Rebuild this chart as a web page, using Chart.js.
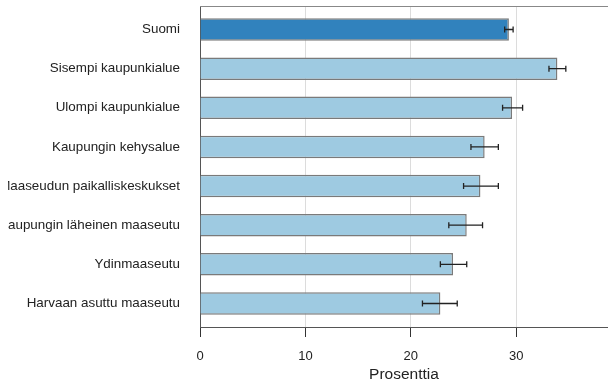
<!DOCTYPE html>
<html>
<head>
<meta charset="utf-8">
<script src="https://cdn.jsdelivr.net/npm/chart.js@4"></script>
<style>
  html, body { margin: 0; padding: 0; background: #fff; }
  #wrap { width: 608px; height: 384px; }
</style>
</head>
<body>
<div id="wrap"><canvas id="c"></canvas></div>
<script>
// Data
const categories = [
    'Suomi',
    'Sisempi kaupunkialue',
    'Ulompi kaupunkialue',
    'Kaupungin kehysalue',
    'Maaseudun paikalliskeskukset',
    'Kaupungin läheinen maaseutu',
    'Ydinmaaseutu',
    'Harvaan asuttu maaseutu'
];
const values = [29.3, 33.9, 29.6, 27.0, 26.6, 25.3, 24.0, 22.8];
const errLow = [28.9, 33.1, 28.7, 25.7, 25.0, 23.6, 22.8, 21.1];
const errHigh = [29.7, 34.7, 30.6, 28.3, 28.3, 26.8, 25.3, 24.4];
const xTicks = [0, 10, 20, 30];

const barColors = categories.map((c, i) => i === 0 ? '#3182bd' : '#9ecae1');
// y is a numeric position axis so the outer margins match the original
const points = categories.map((c, i) => ({ x: values[i], y: i }));

// error bars + top frame line
const errorBars = {
    id: 'errorBars',
    afterDatasetsDraw(chart) {
        const { ctx, scales: { x, y }, chartArea } = chart;
        ctx.save();
        ctx.strokeStyle = '#888';
        ctx.lineWidth = 1;
        ctx.beginPath();
        ctx.moveTo(chartArea.left, chartArea.top + 0.5);
        ctx.lineTo(chartArea.right, chartArea.top + 0.5);
        ctx.stroke();

        ctx.strokeStyle = '#222';
        ctx.lineWidth = 1.3;
        categories.forEach((c, i) => {
            const yc = y.getPixelForValue(i);
            const x1 = x.getPixelForValue(errLow[i]);
            const x2 = x.getPixelForValue(errHigh[i]);
            ctx.beginPath();
            ctx.moveTo(x1, yc); ctx.lineTo(x2, yc);
            ctx.moveTo(x1, yc - 3); ctx.lineTo(x1, yc + 3);
            ctx.moveTo(x2, yc - 3); ctx.lineTo(x2, yc + 3);
            ctx.stroke();
        });
        ctx.restore();
    }
};

// the original crops the long labels at the left edge
const leftCrop = {
    id: 'leftCrop',
    afterDraw(chart) {
        const ctx = chart.ctx;
        ctx.save();
        ctx.fillStyle = '#fff';
        ctx.fillRect(0, 0, 8, chart.height);
        ctx.restore();
    }
};

new Chart(document.getElementById('c'), {
    type: 'bar',
    data: {
        datasets: [{
            data: points,
            backgroundColor: barColors,
            borderColor: '#7a7a7a',
            borderWidth: 1.5,
            barPercentage: 0.575,
            categoryPercentage: 1
        }]
    },
    options: {
        indexAxis: 'y',
        responsive: true,
        maintainAspectRatio: false,
        animation: false,
        layout: { padding: { top: 6, right: 0, left: 0, bottom: 0 } },
        plugins: {
            legend: { display: false },
            tooltip: { enabled: false }
        },
        scales: {
            x: {
                type: 'linear',
                min: 0,
                max: 38.7,
                afterBuildTicks: (scale) => {
                    scale.ticks = xTicks.map(v => ({ value: v }));
                },
                afterFit: (scale) => { scale.height = 57; },
                grid: { color: '#dcdcdc', lineWidth: 1, tickColor: '#333', tickLength: 10 },
                border: { color: '#555', width: 1 },
                ticks: {
                    color: '#222',
                    padding: 12,
                    font: { family: 'Liberation Sans', size: 13 }
                },
                title: {
                    display: true,
                    text: 'Prosenttia',
                    color: '#222',
                    padding: { top: 1, bottom: 0 },
                    font: { family: 'Liberation Sans', size: 15.5 }
                }
            },
            y: {
                type: 'linear',
                reverse: true,
                offset: false,
                min: -0.6,
                max: 7.6,
                afterBuildTicks: (scale) => {
                    scale.ticks = categories.map((c, i) => ({ value: i }));
                },
                afterFit: (scale) => {
                    scale.width = 200;
                    scale.paddingTop = 0;
                    scale.paddingBottom = 0;
                },
                grid: { display: false, drawTicks: false },
                border: { color: '#555', width: 1 },
                ticks: {
                    color: '#222',
                    padding: 20,
                    callback: (v) => categories[v],
                    font: { family: 'Liberation Sans', size: 13.4 }
                }
            }
        }
    },
    plugins: [errorBars, leftCrop]
});
</script>
</body>
</html>
